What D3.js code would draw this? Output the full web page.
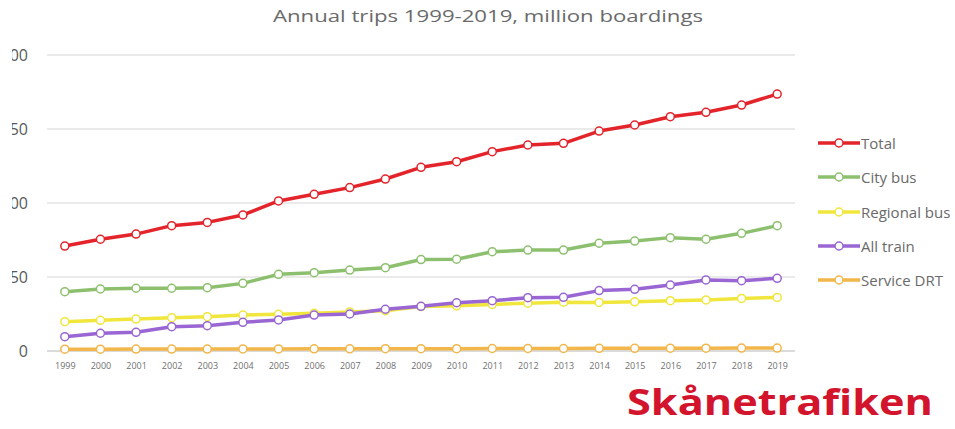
<!DOCTYPE html>
<html>
<head>
<meta charset="utf-8">
<script src="https://cdn.jsdelivr.net/npm/d3@7"></script>
<style>
  html, body { margin: 0; padding: 0; background: #ffffff; overflow: hidden; }
  svg { display: block; font-family: "Open Sans", "Liberation Sans", sans-serif; }
</style>
</head>
<body>
<svg id="chart" width="955" height="429"></svg>
<script>
const years = ["1999","2000","2001","2002","2003","2004","2005","2006","2007","2008","2009","2010","2011","2012","2013","2014","2015","2016","2017","2018","2019"];
const total    = [70.9, 75.5, 79.0, 84.7, 86.9, 91.9, 101.4, 105.9, 110.4, 116.2, 124.1, 127.9, 134.7, 139.2, 140.3, 148.6, 152.7, 158.3, 161.3, 166.2, 173.6];
const cityBus  = [40.1, 41.9, 42.4, 42.4, 42.8, 45.7, 51.8, 52.9, 54.7, 56.3, 61.8, 62.0, 67.1, 68.2, 68.2, 72.8, 74.3, 76.6, 75.5, 79.5, 84.7];
const regional = [19.8, 20.7, 21.6, 22.5, 23.2, 24.3, 24.8, 25.5, 26.4, 27.2, 30.0, 30.5, 31.5, 32.3, 33.0, 32.8, 33.2, 34.0, 34.5, 35.5, 36.2];
const allTrain = [9.7, 12.0, 12.6, 16.4, 17.1, 19.4, 21.0, 24.3, 25.0, 28.2, 30.2, 32.6, 34.0, 36.0, 36.3, 40.8, 41.7, 44.6, 48.0, 47.5, 49.1];
const service  = [1.2, 1.2, 1.3, 1.3, 1.3, 1.4, 1.4, 1.5, 1.5, 1.6, 1.6, 1.6, 1.7, 1.7, 1.7, 1.8, 1.8, 1.9, 1.9, 2.0, 2.0];
const seriesNames = ["Total", "City bus", "Regional bus", "All train", "Service DRT"];
const yTicks = [0, 50, 100, 150, 200];
const titleText = "Annual trips 1999-2019, million boardings";
const logoText = "Skånetrafiken";

const seriesValues = [total, cityBus, regional, allTrain, service];
const colors = ["#e3242b", "#8dc06e", "#f0e63c", "#9966d3", "#f2b64a"];

const svg = d3.select("#chart");

const x = d3.scalePoint().domain(years).range([47, 795]).padding(0.5);
const y = d3.scaleLinear().domain([0, 200]).range([351, 55]);

// clip (source image is cropped at the left edge)
svg.append("defs").append("clipPath").attr("id", "leftclip")
  .append("rect").attr("x", 12 - 28).attr("y", 0).attr("width", 944).attr("height", 429);

// gridlines
const grid = svg.append("g");
grid.selectAll("line").data(yTicks.filter(d => d > 0)).join("line")
  .attr("x1", 47).attr("x2", 795)
  .attr("y1", d => y(d)).attr("y2", d => y(d))
  .attr("stroke", "#e3e3e3").attr("stroke-width", 1.5);

// y axis labels
const yAxis = svg.append("g").attr("transform", "translate(28,0)")
  .attr("clip-path", "url(#leftclip)")
  .call(d3.axisLeft(y).tickValues(yTicks).tickSize(0).tickPadding(0));
yAxis.select(".domain").remove();
yAxis.selectAll("text").attr("font-size", 16).attr("fill", "#595959")
  .attr("font-family", "Open Sans, sans-serif");

// x axis
const xAxis = svg.append("g").attr("transform", `translate(0,${y(0)})`)
  .call(d3.axisBottom(x).tickSize(0).tickPadding(12));
xAxis.select(".domain").attr("d", "M47,0H795").attr("stroke", "#cfcfcf").attr("stroke-width", 1.5);
xAxis.selectAll("text").attr("font-size", 9).attr("fill", "#707070")
  .attr("font-family", "Open Sans, sans-serif");

// lines
const line = d3.line().x((d, i) => x(years[i])).y(d => y(d));
const plot = svg.append("g");
seriesValues.forEach((vals, k) => {
  const g = plot.append("g");
  g.append("path").datum(vals).attr("d", line)
    .attr("fill", "none").attr("stroke", colors[k]).attr("stroke-width", 3.5)
    .attr("stroke-linejoin", "round");
  g.selectAll("circle").data(vals).join("circle")
    .attr("cx", (d, i) => x(years[i])).attr("cy", d => y(d)).attr("r", 4)
    .attr("fill", "#ffffff").attr("stroke", colors[k]).attr("stroke-width", 1.5);
});

// title
svg.append("text").attr("x", 488).attr("y", 22).attr("text-anchor", "middle")
  .attr("font-size", 16).attr("fill", "#6a6a6a")
  .attr("textLength", 430).attr("lengthAdjust", "spacingAndGlyphs")
  .text(titleText);

// legend
const legend = svg.append("g");
const legY = [143, 177, 212, 246, 280];
seriesNames.forEach((name, k) => {
  const g = legend.append("g").attr("transform", `translate(818,${legY[k]})`);
  g.append("line").attr("x1", 0).attr("x2", 42).attr("y1", 0).attr("y2", 0)
    .attr("stroke", colors[k]).attr("stroke-width", 3.5);
  g.append("circle").attr("cx", 21).attr("cy", 0).attr("r", 4)
    .attr("fill", "#ffffff").attr("stroke", colors[k]).attr("stroke-width", 1.5);
  g.append("text").attr("x", 43).attr("y", 5.5)
    .attr("font-size", 15).attr("fill", "#6a6a6a")
    .text(name);
});

// logo
svg.append("text").attr("x", 627).attr("y", 415)
  .attr("font-size", 35).attr("font-weight", "bold").attr("fill", "#d2142c")
  .attr("textLength", 306).attr("lengthAdjust", "spacingAndGlyphs")
  .text(logoText);
</script>
</body>
</html>
